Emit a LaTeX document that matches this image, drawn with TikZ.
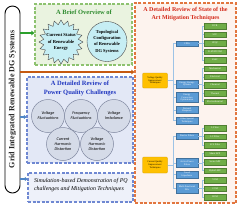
\documentclass[tikz,border=0pt]{standalone}
\usepackage{fontspec}
\setmainfont{Liberation Serif}
\newfontfamily\cali{Carlito}
\usetikzlibrary{arrows.meta}
\definecolor{topfill}{HTML}{EAF3E0}
\definecolor{topdraw}{HTML}{8DC26F}
\definecolor{toptext}{HTML}{2E8B2E}
\definecolor{cyanfill}{HTML}{C6EEF4}
\definecolor{midfill}{HTML}{E3E8F6}
\definecolor{middraw}{HTML}{6F88D2}
\definecolor{midtext}{HTML}{2238C0}
\definecolor{circfill}{HTML}{D5DBE8}
\definecolor{circdraw}{HTML}{8088A0}
\definecolor{botfill}{HTML}{EEF1FA}
\definecolor{rfill}{HTML}{FDF3EE}
\definecolor{rdraw}{HTML}{E2763F}
\definecolor{rtext}{HTML}{D42A1A}
\definecolor{orline}{HTML}{C55A11}
\definecolor{garrow}{HTML}{2CA02C}
\definecolor{barrow}{HTML}{4F86C6}
\definecolor{bxblue}{HTML}{5B9BD5}
\definecolor{bxblueD}{HTML}{41719C}
\definecolor{bxgreen}{HTML}{70AD47}
\definecolor{bxgreenD}{HTML}{507E32}
\definecolor{bxorange}{HTML}{FFC000}
\definecolor{tlinec}{HTML}{9DC3E6}
\tikzset{
  dashbox/.style={rectangle, line width=1.2pt, dash pattern=on 3pt off 1.6pt},
  tinyf/.style={font=\fontsize{2.4}{2.8}\selectfont},
  bluebox/.style={rectangle, fill=bxblue, draw=bxblueD, line width=0.2pt, text=white, tinyf, align=center, minimum width=22pt, inner sep=0.2pt},
  greenbox/.style={rectangle, fill=bxgreen, draw=bxgreenD, line width=0.2pt, text=white, tinyf, align=center, minimum width=22pt, minimum height=5.5pt, inner sep=0.2pt},
  orangebox/.style={rectangle, fill=bxorange, draw=bxorange!80!black, line width=0.2pt, rounded corners=1pt, tinyf, align=center, minimum width=25pt, inner sep=0.3pt},
  tline/.style={draw=tlinec, line width=0.45pt},
  pqcirc/.style={circle, fill=circfill, draw=circdraw, line width=0.5pt, minimum size=33pt, inner sep=0pt, align=center, font=\cali\itshape\fontsize{4.2}{5}\selectfont},
}
\begin{document}
\begin{tikzpicture}[x=1pt,y=-1pt]
\useasboundingbox[fill=white] (0,0) rectangle (240,210);
% containers
\node[dashbox, fill=topfill, draw=topdraw, minimum width=97pt, minimum height=61pt] (top) at (83.5,34.5) {};
\node[dashbox, fill=midfill, draw=middraw, minimum width=106pt, minimum height=86pt] (mid) at (80,120) {};
\node[dashbox, fill=botfill, draw=middraw, minimum width=105pt, minimum height=29pt] (bot) at (80.5,187.5) {};
\node[dashbox, fill=rfill, draw=rdraw, minimum width=101pt, minimum height=200pt] (right) at (185.5,103) {};
% left bar
\node[draw=black, line width=0.9pt, fill=white, rounded corners=7.5pt, minimum width=15pt, minimum height=187pt] (bar) at (12.5,99.5) {};
\node[rotate=90, font=\bfseries\fontsize{8}{9}\selectfont, text=black!85] (bartext) at (bar.center) {Grid Integrated Renewable DG Systems};
% connectors from bar
\coordinate (a1) at (bar.east |- 0,33);
\coordinate (a2) at (bar.east |- 0,117);
\coordinate (a3) at (bar.east |- 0,179);
\coordinate (a4) at (bar.east |- 0,72);
\draw[garrow, line width=1.6pt, -{Triangle[length=3pt,width=4.5pt]}] (a1) -- (top.west |- a1);
\draw[barrow, line width=1.3pt, -{Triangle[length=2.5pt,width=4pt]}] (a2) -- (mid.west |- a2);
\draw[barrow, line width=1.3pt, -{Triangle[length=2.5pt,width=4pt]}] (a3) -- (bot.west |- a3);
\draw[orline, line width=1.8pt, -{Triangle[length=3pt,width=4.5pt]}] (a4) -- (right.west |- a4);
% top box content
\node[font=\bfseries\fontsize{6.5}{7.5}\selectfont, text=toptext] (toptitle) at (84,12) {A Brief Overview of};
\path[fill=cyanfill, draw=black!70, line width=0.4pt] (83,42)
  \foreach \i [evaluate=\i as \r using {mod(\i,2)==0 ? 22 : 17.5}, evaluate=\i as \a using {\i*9}] in {1,...,39} { -- ({61+\r*cos(\a)},{42+\r*sin(\a)}) } -- cycle;
\node[font=\bfseries\fontsize{4.6}{6.2}\selectfont, align=center] (star) at (61,42) {Current Status\\of Renewable\\Energy};
\node[circle, fill=cyanfill, draw=black!70, line width=0.4pt, minimum size=40pt, inner sep=0pt, align=center, font=\bfseries\fontsize{4.5}{6.3}\selectfont] (topo) at (107,41.5) {Topological\\Configuration\\of Renewable\\DG Systems};
% middle box content
\node[font=\bfseries\fontsize{6.5}{8.5}\selectfont, text=midtext, align=center] (midtitle) at (80,88.5) {A Detailed Review of\\Power Quality Challenges};
\node[pqcirc] (vf) at (48,116) {Voltage\\Fluctuations};
\node[pqcirc] (ff) at (81,116) {Frequency\\Fluctuations};
\node[pqcirc] (vi) at (114,116) {Voltage\\Imbalance};
\node[pqcirc] (chd) at (63,144) {Current\\Harmonic\\Distortion};
\node[pqcirc] (vhd) at (97,144) {Voltage\\Harmonic\\Distortion};
% bottom box text
\node[font=\itshape\fontsize{5.9}{7.6}\selectfont, align=left, anchor=west] (bottext) at (30.5,185) {Simulation-based Demonstration of PQ\\challenges and Mitigation Techniques};
% right box title
\node[font=\bfseries\fontsize{6}{7.8}\selectfont, text=rtext, align=center] (rtitle) at (185.5,14) {A Detailed Review of State of the\\Art Mitigation Techniques};
% voltage quality tree
\node[orangebox, minimum height=15pt] (vq) at (155,80.5) {Voltage Quality\\Improvement\\Techniques};
\node[bluebox, minimum height=5pt] (cpd) at (187,43.5) {CPDs};
\node[bluebox, minimum height=8pt] (ess) at (187,84) {Energy Storage\\Systems};
\node[bluebox, minimum height=10pt] (eco) at (187,97.5) {Energy\\Conversion\\Optimization};
\node[bluebox, minimum height=7pt] (dr) at (187,110) {Demand\\Response};
\node[bluebox, minimum height=7pt] (ost) at (187,120.5) {Other Special\\Techniques};
\foreach \b in {cpd,ess,eco,dr,ost} \draw[tline] (vq.east) -- ++(6,0) |- (\b.west);
% CPD leaves
\foreach \n/\t/\y in {c1/DVR/26, c2/SVC/34.5, c3/UPQC/43, c4/D-STATCOM/51.5, c5/SSSC/60}
  {\node[greenbox] (\n) at (215,\y) {\t}; \draw[tline] (cpd.east) -- ++(4,0) |- (\n.west);}
% ESS leaves
\foreach \n/\t/\y in {e1/Mechanical/68.5, e2/Electrical/76.8, e3/Chemical/85, e4/Thermal/93.3, e5/Electrochemical/101.5}
  {\node[greenbox] (\n) at (215,\y) {\t}; \draw[tline] (ess.east) -- ++(4,0) |- (\n.west);}
% current quality tree
\node[orangebox, minimum height=16pt] (cq) at (155,165) {Current Quality\\Improvement\\Techniques};
\node[bluebox, minimum height=6.5pt] (pf) at (187,136) {Passive Filters};
\node[bluebox, minimum height=9pt] (apf) at (187,163) {Active Power\\Filters};
\node[bluebox, minimum height=7pt] (ti) at (187,174.5) {Tuned\\Impedance};
\node[bluebox, minimum height=10pt] (mf) at (187,188.5) {Multi-Functional\\DGs};
\foreach \b in {pf,apf,ti,mf} \draw[tline] (cq.east) -- ++(6,0) |- (\b.west);
\foreach \n/\t/\y in {p1/L Filter/128, p2/LC Filter/136.5, p3/LCL Filter/145}
  {\node[greenbox] (\n) at (215,\y) {\t}; \draw[tline] (pf.east) -- ++(4,0) |- (\n.west);}
\foreach \n/\t/\y in {s1/Shunt APF/153.5, s2/Series APF/162, s3/Hybrid APF/170.5}
  {\node[greenbox] (\n) at (215,\y) {\t}; \draw[tline] (apf.east) -- ++(4,0) |- (\n.west);}
\foreach \n/\t/\y in {m1/VCM/180, m2/CCM/188.5, m3/HCM/197}
  {\node[greenbox] (\n) at (215,\y) {\t}; \draw[tline] (mf.east) -- ++(4,0) |- (\n.west);}
\end{tikzpicture}
\end{document}
